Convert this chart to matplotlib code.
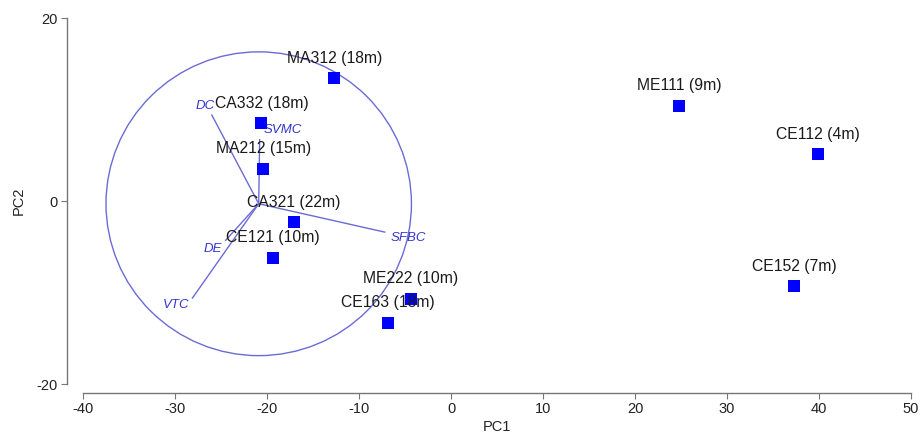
import numpy as np
import matplotlib.pyplot as plt
from matplotlib.patches import Circle

plt.rcParams['font.family'] = ['Liberation Sans', 'DejaVu Sans']
plt.rcParams['axes.unicode_minus'] = False

# Sample scores
names = ["MA312 (18m)", "CA332 (18m)", "MA212 (15m)", "CA321 (22m)", "CE121 (10m)",
         "ME222 (10m)", "CE163 (18m)", "ME111 (9m)", "CE112 (4m)", "CE152 (7m)"]
pc1 = [-12.7, -20.6, -20.4, -17.1, -19.4, -4.4, -6.9, 24.8, 39.9, 37.3]
pc2 = [13.4, 8.5, 3.5, -2.3, -6.2, -10.7, -13.3, 10.4, 5.1, -9.3]

# Biplot loadings (endpoints) and centre
var_names = ["DC", "SVMC", "SFBC", "VTC", "DE"]
var_x = [-26.0, -20.8, -7.2, -28.1, -24.5]
var_y = [9.4, 6.7, -3.4, -10.6, -4.3]
origin_x, origin_y = -20.9, -0.3
circle_r = 16.6

# label offsets for the variable names (pixels)
var_offsets = {"DC": (-7, 9), "SVMC": (23, 10), "SFBC": (24, -6),
               "VTC": (-16, -7), "DE": (-13, -9)}

fig = plt.figure(figsize=(9.23, 4.34), dpi=100)
ax = fig.add_axes([83 / 923, 1 - 384 / 434, 828 / 923, 366 / 434])

line_col = "#6b6bd6"
ax.add_patch(Circle((origin_x, origin_y), circle_r, fill=False, ec=line_col, lw=1.0))
for nm, vx, vy in zip(var_names, var_x, var_y):
    ax.plot([origin_x, vx], [origin_y, vy], color=line_col, lw=1.0)
    ax.annotate(nm, (vx, vy), xytext=var_offsets[nm], textcoords="offset pixels",
                ha="center", va="center", fontsize=9.5, style="italic", color="#3535d0")

ax.scatter(pc1, pc2, marker="s", s=72, color="#0000ff", zorder=3, linewidths=0)
for nm, x, y in zip(names, pc1, pc2):
    ax.annotate(nm, (x, y), xytext=(0, 20), textcoords="offset pixels",
                ha="center", va="center", fontsize=11.3, color="#1a1a1a", zorder=4)

ax.set_xlim(-40, 50)
ax.set_ylim(-20, 20)
ax.set_xticks(np.arange(-40, 51, 10))
ax.set_yticks([-20, 0, 20])

for s in ["top", "right"]:
    ax.spines[s].set_visible(False)
ax.spines["left"].set_position(("outward", 11.5))
ax.spines["bottom"].set_position(("outward", 6.5))
for s in ["left", "bottom"]:
    ax.spines[s].set_color("#777777")
    ax.spines[s].set_linewidth(1.0)
ax.tick_params(colors="#777777", labelcolor="#222222", labelsize=10.5, length=4, pad=2.5)

ax.set_xlabel("PC1", fontsize=10.5, color="#222222", labelpad=3)
ax.set_ylabel("PC2", fontsize=10.5, color="#222222", labelpad=8)

fig.savefig("out.png", dpi=100)
